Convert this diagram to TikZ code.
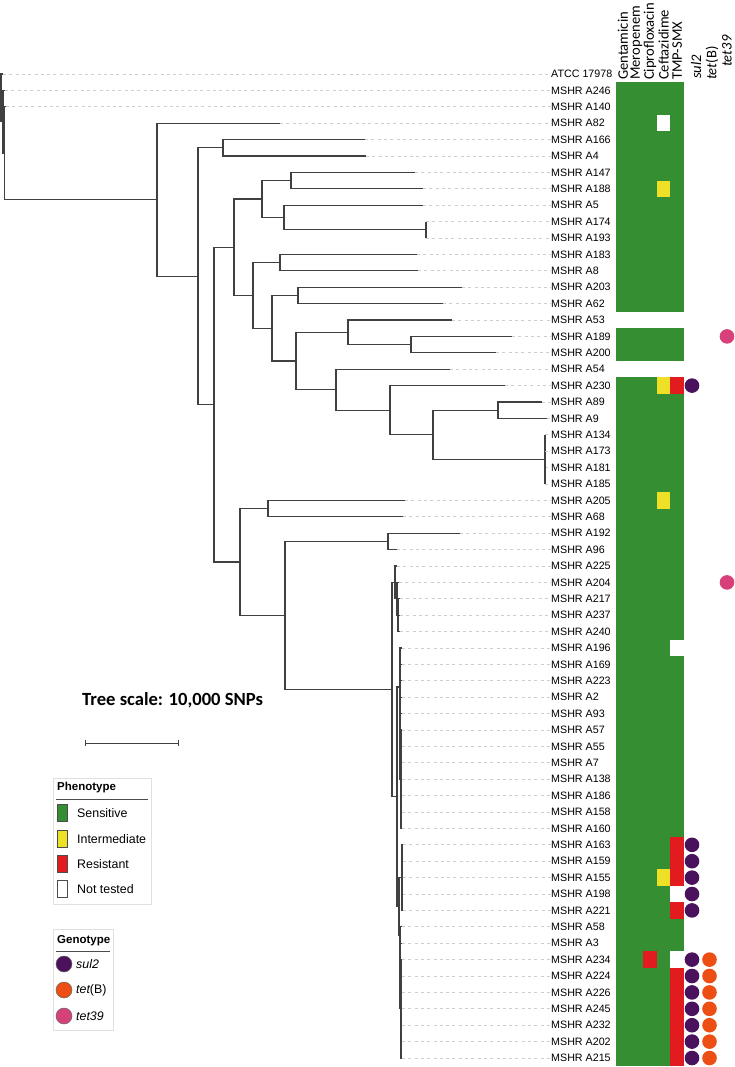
\documentclass[tikz,border=0pt]{standalone}
\usepackage{fontspec}
\setmainfont{Liberation Sans}
\newfontfamily\calfont{Carlito}
\usetikzlibrary{calc}
\definecolor{gr}{RGB}{53,142,50}
\definecolor{ye}{RGB}{238,224,38}
\definecolor{rd}{RGB}{226,27,30}
\definecolor{pu}{RGB}{74,17,92}
\definecolor{og}{RGB}{236,78,20}
\definecolor{pk}{RGB}{216,64,122}
\definecolor{lgray}{RGB}{205,205,205}
\newcommand\ry[1]{\fpeval{74+16.4*(#1-1)}}
\newcommand\cellat[3]{\fill[#3] ({616+13.6*(#1-1)},{\ry{#2}-8.2}) rectangle ++(13.6,16.4);}
\begin{document}
\begin{tikzpicture}[x=1pt,y=-1pt,
  br/.style={draw=black!75, line width=1.2pt},
  dsh/.style={draw=lgray, dash pattern=on 3pt off 3.3pt, line width=0.7pt},
  lab/.style={anchor=west, inner sep=0pt, font=\fontsize{10.7}{12}\selectfont},
  hdr/.style={rotate=90, anchor=west, inner sep=0pt, font=\calfont\fontsize{14.6}{17}\selectfont},
  leg/.style={anchor=west, inner sep=0pt, font=\fontsize{12.4}{14}\selectfont},
  legt/.style={anchor=west, inner sep=0pt, font=\bfseries\fontsize{11.5}{14}\selectfont},
  legbox/.style={draw=black!12, line width=0.8pt},
]
\useasboundingbox (0,0) rectangle (735,1067);
\fill[white] (0,0) rectangle (735,1067);

% internal nodes
\coordinate (root) at (1,97.9);
\coordinate (n1) at (3,121.8);
\coordinate (n2) at (4.5,153.25);
\coordinate (n3) at (157,199.7);
\coordinate (n4) at (198,276.2);
\coordinate (n5) at (223,147.8);
\coordinate (n6) at (214,404.6);
\coordinate (n7) at (234,247.2);
\coordinate (n8) at (262,199.05);
\coordinate (n9) at (291,180.6);
\coordinate (n10) at (284,217.5);
\coordinate (n11) at (426,229.8);
\coordinate (n12) at (253,295.4);
\coordinate (n13) at (280,262.6);
\coordinate (n14) at (272,328.2);
\coordinate (n15) at (298,295.4);
\coordinate (n16) at (296,361);
\coordinate (n17) at (348,332.3);
\coordinate (n18) at (411,344.6);
\coordinate (n19) at (336,389.7);
\coordinate (n21) at (390,410.2);
\coordinate (n22) at (433,434.8);
\coordinate (n23) at (498,410.2);
\coordinate (n24) at (545,459.4);
\coordinate (n20) at (240,562);
\coordinate (n25) at (268,508.6);
\coordinate (n26) at (285,615.4);
\coordinate (n27) at (388,541.4);
\coordinate (n28) at (392,689.5);
\coordinate (n29) at (395,582.4);
\coordinate (n31) at (397,598.8);
\coordinate (n32) at (398,615.2);
\coordinate (n30) at (397,796.5);
\coordinate (n33) at (400,687);
\coordinate (n33b) at (401,779.2);
\coordinate (n34) at (399,906);
\coordinate (n35) at (402,877.6);
\coordinate (n36) at (400,935);
\coordinate (n37) at (401,1008.8);

\foreach \a/\b in {root/n1,n1/n2,n2/n3,n3/n4,n4/n5,n4/n6,n6/n7,n7/n8,n8/n9,n8/n10,n10/n11,n7/n12,n12/n13,n12/n14,n14/n15,n14/n16,n16/n17,n17/n18,n16/n19,n19/n21,n21/n22,n22/n23,n22/n24,n6/n20,n20/n25,n20/n26,n26/n27,n26/n28,n28/n29,n29/n31,n31/n32,n28/n30,n30/n33,n33/n33b,n30/n34,n34/n35,n34/n36,n36/n37}
  {\draw[br] (\a) |- (\b);}

% leaves
\foreach \i/\t/\p/\x in {
 1/ATCC 17978/root/3, 2/MSHR A246/n1/5, 3/MSHR A140/n2/6, 4/MSHR A82/n3/280,
 5/MSHR A166/n5/365, 6/MSHR A4/n5/366, 7/MSHR A147/n9/415, 8/MSHR A188/n9/423,
 9/MSHR A5/n10/423, 10/MSHR A174/n11/426, 11/MSHR A193/n11/426, 12/MSHR A183/n13/417,
 13/MSHR A8/n13/418, 14/MSHR A203/n15/462, 15/MSHR A62/n15/443, 16/MSHR A53/n17/452,
 17/MSHR A189/n18/512, 18/MSHR A200/n18/496, 19/MSHR A54/n19/450, 20/MSHR A230/n21/505,
 21/MSHR A89/n23/542, 22/MSHR A9/n23/547, 23/MSHR A134/n24/545, 24/MSHR A173/n24/545,
 25/MSHR A181/n24/545, 26/MSHR A185/n24/545, 27/MSHR A205/n25/405, 28/MSHR A68/n25/403,
 29/MSHR A192/n27/460, 30/MSHR A96/n27/397, 31/MSHR A225/n29/397, 32/MSHR A204/n31/399,
 33/MSHR A217/n32/400, 34/MSHR A237/n32/400, 35/MSHR A240/n32/400, 36/MSHR A196/n33/402,
 37/MSHR A169/n33/402, 38/MSHR A223/n33/402, 39/MSHR A2/n33/402, 40/MSHR A93/n33/402,
 41/MSHR A57/n33b/402, 42/MSHR A55/n33b/402, 43/MSHR A7/n33b/402, 44/MSHR A138/n33b/402,
 45/MSHR A186/n33b/402, 46/MSHR A158/n33b/402, 47/MSHR A160/n33b/402, 48/MSHR A163/n35/403,
 49/MSHR A159/n35/403, 50/MSHR A155/n35/403, 51/MSHR A198/n35/403, 52/MSHR A221/n35/403,
 53/MSHR A58/n36/402, 54/MSHR A3/n36/402, 55/MSHR A234/n37/402, 56/MSHR A224/n37/402,
 57/MSHR A226/n37/402, 58/MSHR A245/n37/402, 59/MSHR A232/n37/402, 60/MSHR A202/n37/402,
 61/MSHR A215/n37/402}
{
  \coordinate (t\i) at (\x,{\ry{\i}});
  \draw[br] (\p) |- (t\i);
  \node[lab] (l\i) at (551,{\ry{\i}}) {\t};
  \draw[dsh] (t\i) -- (l\i.west);
}

% headers
\node[hdr] (h1) at (622.8,80) {Gentamicin};
\node[hdr] (h2) at (636.4,80) {Meropenem};
\node[hdr] (h3) at (650,80) {Ciprofloxacin};
\node[hdr] (h4) at (663.6,80) {Ceftazidime};
\node[hdr] (h5) at (677.2,80) {TMP-SMX};
\node[hdr] (h6) at (696,79) {\itshape sul2};
\node[hdr] (h7) at (712,80) {\itshape tet\upshape(B)};
\node[hdr] (h8) at (727,67) {\itshape tet39};

% heatmap blocks
\fill[gr] (616,{\ry{2}-8.2}) rectangle (684,{\ry{15}+8.2});
\fill[gr] (616,{\ry{17}-8.2}) rectangle (684,{\ry{18}+8.2});
\fill[gr] (616,{\ry{20}-8.2}) rectangle (684,{\ry{61}+8.2});
\cellat{4}{4}{white}
\cellat{4}{8}{ye}
\cellat{4}{20}{ye}
\cellat{5}{20}{rd}
\cellat{4}{27}{ye}
\cellat{5}{36}{white}
\cellat{5}{48}{rd}
\cellat{5}{49}{rd}
\cellat{4}{50}{ye}
\cellat{5}{50}{rd}
\cellat{5}{51}{white}
\cellat{5}{52}{rd}
\cellat{3}{55}{rd}
\cellat{5}{55}{white}
\foreach \r in {56,...,61} {\cellat{5}{\r}{rd}}

% genotype circles
\foreach \r in {20,48,49,50,51,52,55,56,57,58,59,60,61} {\fill[pu] (692,{\ry{\r}}) circle (7.3);}
\foreach \r in {55,56,57,58,59,60,61} {\fill[og] (709.5,{\ry{\r}}) circle (7.3);}
\foreach \r in {17,32} {\fill[pk] (727,{\ry{\r}}) circle (7.3);}

% scale
\node[anchor=west, inner sep=0pt, font=\calfont\bfseries\fontsize{18.6}{20}\selectfont] (ts) at (82,700) {Tree scale: 10,000 SNPs};
\coordinate (sa) at (85,743);
\coordinate (sb) at (178,743);
\draw[black!75, line width=0.9pt] (sa) -- (sb);
\draw[black!75, line width=0.9pt] ($(sa)+(0,-3)$) -- ($(sa)+(0,3)$);
\draw[black!75, line width=0.9pt] ($(sb)+(0,-3)$) -- ($(sb)+(0,3)$);

% legend phenotype
\draw[legbox] (53,778) rectangle (151,904);
\node[legt] (pt) at (57,788) {Phenotype};
\draw[black!70, line width=0.8pt] (56,799) -- (148,799);
\foreach \y/\c/\t in {813/gr/Sensitive, 839/ye/Intermediate, 864/rd/Resistant, 889/white/Not tested}
{
  \filldraw[fill=\c, draw=black!70, line width=0.5pt] (57,\y-8.5) rectangle (67,\y+8.5);
  \node[leg] at (77,\y) {\t};
}
% legend genotype
\draw[legbox] (53,929) rectangle (113,1030);
\node[legt] (gt) at (57,941) {Genotype};
\draw[black!70, line width=0.8pt] (56,951) -- (110,951);
\foreach \y/\c in {964/pu, 990/og, 1016/pk}
{
  \filldraw[fill=\c, draw=black!60, line width=0.5pt] (64,\y) circle (8);
}
\node[leg] at (76,964) {\itshape sul2};
\node[leg] at (76,990) {\itshape tet\upshape(B)};
\node[leg] at (76,1016) {\itshape tet39};
\end{tikzpicture}
\end{document}
